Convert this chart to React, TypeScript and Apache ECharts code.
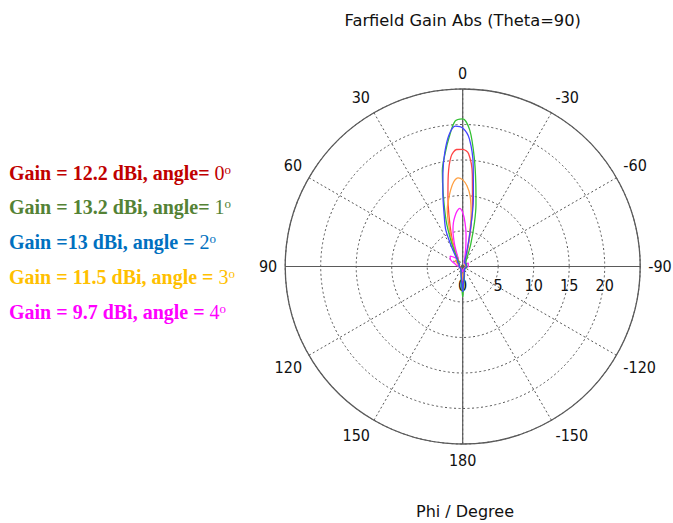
import React, { useEffect, useRef } from "react";
import * as echarts from "echarts";

// Phi angles (degrees) at which the patterns are sampled
const PHI = [-180, -170, -150, -120, -90, -60, -40, -30, -25, -20, -15, -12, -9, -6, -3, 0, 3, 6, 9, 12, 15, 20, 25, 30, 40, 50, 60, 75, 90, 120, 150, 170, 180];

// Radial values (plot units, rings at 5,10,15,20)
const R_ANGLE0 = [2.8, 1.0, 0.4, 0.4, 0.4, 0.4, 0.5, 0.5, 0.7, 1.3, 3.0, 5.4, 8.8, 13.0, 15.9, 16.5, 16.5, 15.6, 13.0, 10.0, 7.5, 4.6, 2.7, 1.4, 0.8, 1.2, 0.7, 0.5, 0.4, 0.4, 0.4, 1.0, 2.8];
const R_ANGLE1 = [4.3, 1.4, 0.5, 0.5, 0.6, 0.6, 0.7, 1.0, 1.6, 3.3, 6.4, 9.0, 11.8, 15.5, 19.2, 20.8, 20.5, 18.3, 16.0, 13.8, 10.6, 6.8, 3.8, 2.0, 0.9, 0.6, 0.5, 0.5, 0.5, 0.4, 0.5, 1.4, 4.3];
const R_ANGLE2 = [3.6, 1.2, 0.5, 0.4, 0.5, 0.5, 0.6, 0.6, 0.7, 1.0, 2.4, 5.0, 9.6, 14.2, 18.0, 19.5, 19.8, 18.6, 16.2, 13.4, 10.8, 7.6, 5.6, 3.0, 1.2, 0.9, 0.6, 0.5, 0.5, 0.4, 0.5, 1.2, 3.6];
const R_ANGLE3 = [2.0, 0.8, 0.4, 0.4, 0.4, 0.4, 0.5, 0.5, 0.6, 1.2, 2.8, 4.6, 7.6, 10.0, 11.4, 12.2, 12.5, 12.0, 10.9, 9.6, 8.4, 5.4, 3.0, 1.5, 0.9, 1.4, 0.9, 0.5, 0.4, 0.4, 0.4, 0.8, 2.0];
const R_ANGLE4 = [0.8, 0.5, 0.4, 0.4, 0.8, 0.9, 0.6, 0.5, 0.5, 0.6, 1.0, 1.6, 2.8, 4.5, 6.2, 7.6, 8.2, 7.8, 7.1, 6.3, 5.3, 3.4, 1.9, 1.2, 1.6, 2.3, 2.0, 1.0, 0.6, 0.4, 0.4, 0.5, 0.8];

const RADIUS_TICKS = [0, 5, 10, 15, 20];
const RADIUS_MAX = 25;

const CURVES = [
  { name: "angle 0", r: R_ANGLE0, color: "#ff4444" },
  { name: "angle 3", r: R_ANGLE3, color: "#ff9f40" },
  { name: "angle 4", r: R_ANGLE4, color: "#ff22ff" },
  { name: "angle 1", r: R_ANGLE1, color: "#33c033" },
  { name: "angle 2", r: R_ANGLE2, color: "#4444ff" },
];

const LEGEND = [
  { main: "Gain = 12.2 dBi, angle= ", deg: "0", color: "#c00000" },
  { main: "Gain = 13.2 dBi, angle= ", deg: "1", color: "#548235" },
  { main: "Gain =13 dBi, angle = ", deg: "2", color: "#0070c0" },
  { main: "Gain = 11.5 dBi, angle = ", deg: "3", color: "#ffc000" },
  { main: "Gain = 9.7 dBi, angle = ", deg: "4", color: "#ff00ff" },
];

const TITLE = "Farfield Gain Abs (Theta=90)";
const X_NAME = "Phi / Degree";

const toAngle = (p: number) => (p < -90 ? p + 360 : p);

export default function App() {
  const ref = useRef<HTMLDivElement>(null);
  useEffect(() => {
    if (!ref.current) return;
    const chart = echarts.init(ref.current, null, { renderer: "svg" });
    const font = "DejaVu Sans";
    const labelFont = "DejaVu Sans Condensed";
    const cx = 462.7;
    const cy = 266.5;
    const legendY0 = 172.5;
    const legendStep = 34.8;
    const option: any = {
      animation: false,
      backgroundColor: "#ffffff",
      polar: { center: [cx, cy], radius: 177.5 },
      angleAxis: {
        type: "value",
        min: -90,
        max: 270,
        interval: 30,
        startAngle: 0,
        clockwise: false,
        axisLine: { show: true, lineStyle: { color: "#5a5a5a", width: 1.3 } },
        axisTick: { show: false },
        axisLabel: {
          margin: 8,
          color: "#111",
          fontSize: 16,
          fontFamily: labelFont,
          formatter: (v: number) => String(v > 180 ? v - 360 : v),
        },
        splitLine: { show: true, lineStyle: { color: "#555", width: 1, type: [2, 2.5] } },
      },
      radiusAxis: {
        type: "value",
        min: 0,
        max: RADIUS_MAX,
        interval: 5,
        axisLine: { show: true, lineStyle: { color: "#5a5a5a", width: 1.2 } },
        axisTick: { show: false },
        axisLabel: {
          margin: -27,
          color: "#111",
          fontSize: 16,
          fontFamily: labelFont,
          formatter: (v: number) => (RADIUS_TICKS.indexOf(v) >= 0 ? String(v) : ""),
        },
        splitLine: { show: true, lineStyle: { color: "#555", width: 1, type: [2, 2.5] } },
      },
      series: [
        {
          type: "line",
          coordinateSystem: "polar",
          data: [[RADIUS_MAX, 0], [RADIUS_MAX, 180]],
          symbol: "none",
          silent: true,
          lineStyle: { color: "#5a5a5a", width: 1.2 },
          z: 1,
        },
        {
          type: "line",
          coordinateSystem: "polar",
          data: [[RADIUS_MAX, 90], [RADIUS_MAX, -90]],
          symbol: "none",
          silent: true,
          lineStyle: { color: "#5a5a5a", width: 1.2 },
          z: 1,
        },
        ...CURVES.map((c) => ({
          type: "line",
          name: c.name,
          coordinateSystem: "polar",
          data: PHI.map((p, i) => [c.r[i], toAngle(p)]),
          symbol: "none",
          smooth: 0.3,
          lineStyle: { color: c.color, width: 1.3 },
          z: 3,
        })),
      ],
      graphic: [
        {
          type: "text",
          x: cx,
          y: 20,
          style: { text: TITLE, fill: "#111", fontSize: 16.3, fontFamily: font, align: "center", verticalAlign: "middle" },
        },
        {
          type: "text",
          x: 465,
          y: 511,
          style: { text: X_NAME, fill: "#111", fontSize: 16, fontFamily: font, align: "center", verticalAlign: "middle" },
        },
        ...LEGEND.map((l, i) => ({
          type: "text",
          x: 9,
          y: legendY0 + i * legendStep,
          style: {
            text: `{b|${l.main}}{n|${l.deg}}{s|o}`,
            verticalAlign: "middle",
            rich: {
              b: { fontFamily: "Liberation Serif", fontWeight: "bold", fontSize: 20, fill: l.color, color: l.color },
              n: { fontFamily: "Liberation Serif", fontSize: 20, fill: l.color, color: l.color },
              s: { fontFamily: "Liberation Serif", fontSize: 13, fill: l.color, color: l.color, verticalAlign: "top" },
            },
          },
        })),
      ],
    };
    chart.setOption(option);
    return () => chart.dispose();
  }, []);
  return <div ref={ref} style={{ position: "fixed", left: 0, top: 0, width: 673, height: 523 }} />;
}
